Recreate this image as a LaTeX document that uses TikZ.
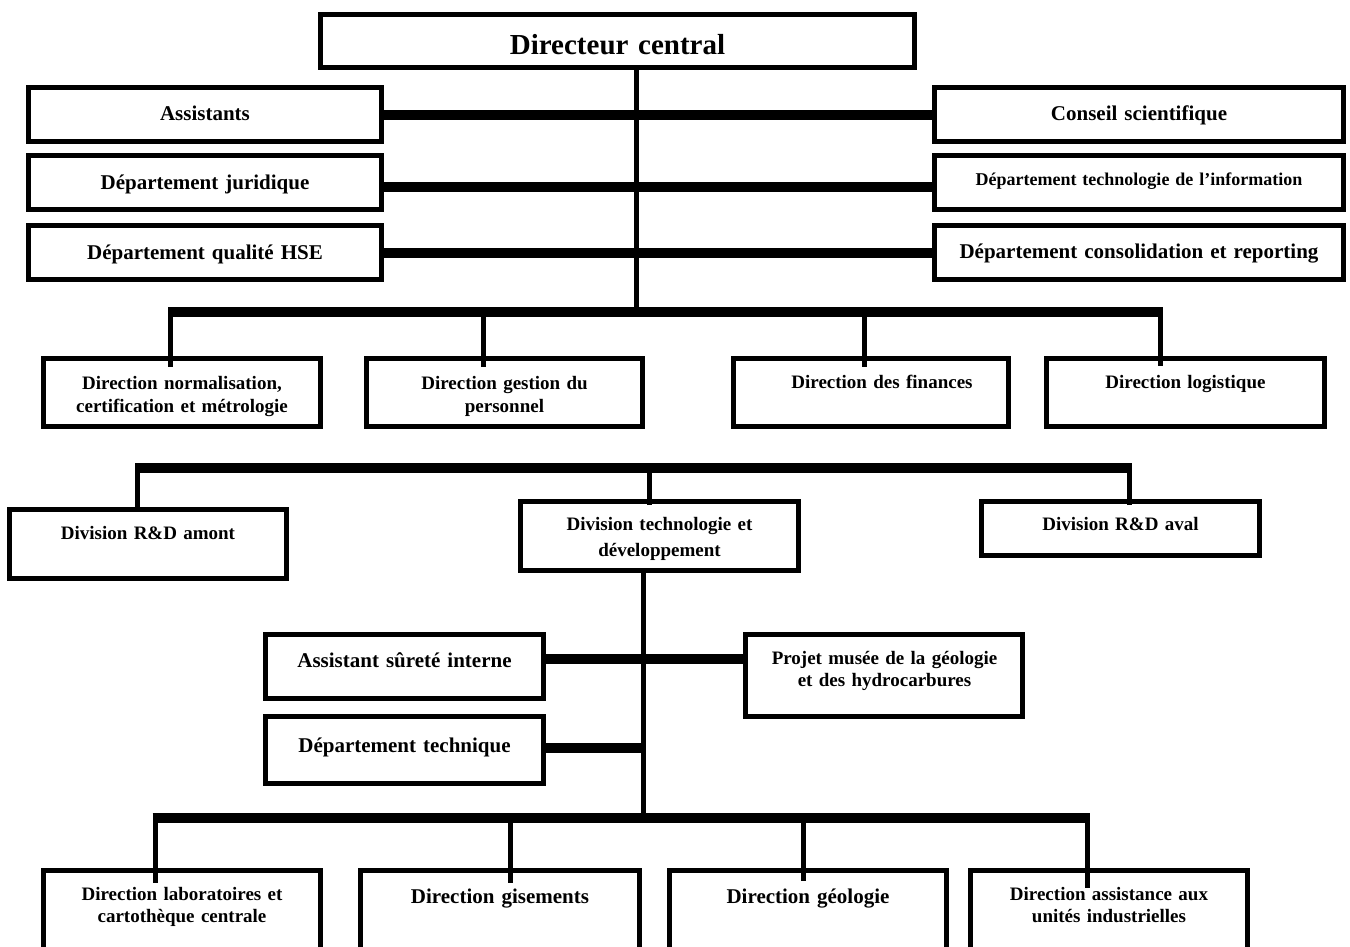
\documentclass[tikz,border=0pt]{standalone}
\usepackage{fontspec}
\setmainfont{Liberation Serif}

\tikzset{
  orgbox/.style={draw, line width=5pt, fill=white, inner sep=0pt, outer sep=0pt},
  lbl/.style={anchor=base, align=center, text width=420pt, inner sep=0pt,
              font=\bfseries\fontsize{19}{23}\selectfont},
  lblL/.style={lbl, font=\bfseries\fontsize{21}{25}\selectfont},
  hbar/.style={line width=10pt},
  bus/.style={line width=10pt},
  vbar/.style={line width=5pt},
  drop/.style={line width=5pt},
}

% box given by its outer edges: name, left, top, right, bottom
\newcommand\orgbox[5]{%
  \node[orgbox, minimum width={(#4-#2-5)*1pt}, minimum height={(#5-#3-5)*1pt}]
    (#1) at ({(#2+#4)/2},{(#3+#5)/2}) {};}

\begin{document}
\begin{tikzpicture}[x=1pt, y=-1pt]
\useasboundingbox (0,0) rectangle (1350,946);
\clip (0,0) rectangle (1350,946);
\fill[white] (0,0) rectangle (1350,946);

% ---- boxes ----
\orgbox{dc}{318}{12}{917}{70}
\orgbox{assist}{26}{85}{384}{144}
\orgbox{jur}{26}{153}{384}{212}
\orgbox{hse}{26}{223}{384}{282}
\orgbox{cons}{932}{85}{1346}{144}
\orgbox{ti}{932}{153}{1346}{212}
\orgbox{rep}{932}{223}{1346}{282}

\orgbox{norm}{41}{356}{323}{429}
\orgbox{pers}{364}{356}{645}{429}
\orgbox{fin}{731}{356}{1011}{429}
\orgbox{logi}{1044}{356}{1327}{429}

\orgbox{amont}{7}{507}{289}{581}
\orgbox{techdev}{518}{499}{801}{573}
\orgbox{aval}{979}{499}{1262}{558}

\orgbox{surete}{263}{632}{546}{701}
\orgbox{musee}{743}{632}{1025}{719}
\orgbox{dtech}{263}{714}{546}{786}

\orgbox{labo}{41}{868}{323}{985}
\orgbox{gis}{358}{868}{642}{985}
\orgbox{geo}{667}{868}{949}{985}
\orgbox{aui}{968}{868}{1250}{985}

% ---- connectors: top level ----
\coordinate (hub1) at (636,312);
\draw[vbar] (dc.south -| hub1) -- (hub1);
\draw[hbar] (assist.east) -- (cons.west);
\draw[hbar] ([yshift=-4.5pt]jur.east) -- ([yshift=-4.5pt]ti.west);
\draw[hbar] (hse.east) -- (rep.west);

% bus to the four directions
\coordinate (b1a) at (170.5,312);
\coordinate (b1b) at (483.5,312);
\coordinate (b1c) at (864.5,312);
\coordinate (b1d) at (1160,312);
\draw[bus] ([xshift=-2.5pt]b1a) -- ([xshift=2.5pt]b1d);
\draw[drop] (b1a) -- ([yshift=-8pt]norm.north -| b1a);
\draw[drop] (b1b) -- ([yshift=-8pt]pers.north -| b1b);
\draw[drop] (b1c) -- ([yshift=-8pt]fin.north -| b1c);
\draw[drop] (b1d) -- ([yshift=-7pt]logi.north -| b1d);

% bus to the three divisions
\coordinate (b2a) at (137.5,468);
\coordinate (b2b) at (649.5,468);
\coordinate (b2c) at (1129.5,468);
\draw[bus] ([xshift=-2.5pt]b2a) -- ([xshift=2.5pt]b2c);
\draw[drop] (b2a) -- (amont.north -| b2a);
\draw[drop] (b2b) -- ([yshift=-3.5pt]techdev.north -| b2b);
\draw[drop] (b2c) -- ([yshift=-3.5pt]aval.north -| b2c);

% division technologie et developpement
\coordinate (hub3) at (643,817.5);
\draw[vbar] (techdev.south -| hub3) -- (hub3);
\coordinate (h2) at (643,659);
\draw[hbar] (surete.east |- h2) -- (musee.west |- h2);
\coordinate (h3) at (645.5,748);
\draw[hbar] (dtech.east |- h3) -- (h3);

\coordinate (b3a) at (155,817.5);
\coordinate (b3b) at (510,817.5);
\coordinate (b3c) at (803.5,817.5);
\coordinate (b3d) at (1087.5,817.5);
\draw[bus] ([xshift=-2.5pt]b3a) -- ([xshift=2.5pt]b3d);
\draw[drop] (b3a) -- ([yshift=-12.5pt]labo.north -| b3a);
\draw[drop] (b3b) -- ([yshift=-12.5pt]gis.north -| b3b);
\draw[drop] (b3c) -- ([yshift=-10.5pt]geo.north -| b3c);
\draw[drop] (b3d) -- ([yshift=-17.5pt]aui.north -| b3d);

% ---- labels ----
\node[lbl, font=\bfseries\fontsize{29}{34}\selectfont] (t-dc) at (617.5,54) {Directeur central};
\node[lblL] (t-assist) at (205,120) {Assistants};
\node[lblL] (t-jur) at (205,189) {Département juridique};
\node[lblL] (t-hse) at (205,259) {Département qualité HSE};
\node[lblL] (t-cons) at (1139,120) {Conseil scientifique};
\node[lbl, font=\bfseries\fontsize{18}{22}\selectfont] (t-ti) at (1139,185) {Département technologie de l’information};
\node[lblL] (t-rep) at (1139,258) {Département consolidation et reporting};

\node[lbl] (t-norm) at (182,389) {Direction normalisation,\\certification et métrologie};
\node[lbl] (t-pers) at (504.5,389) {Direction gestion du\\personnel};
\node[lbl] (t-fin) at (882,388) {Direction des finances};
\node[lbl] (t-logi) at (1185.5,388) {Direction logistique};

\node[lbl] (t-amont) at (148,539) {Division R\&D amont};
\node[lbl, font=\bfseries\fontsize{19}{26}\selectfont] (t-techdev) at (659.5,530) {Division technologie et\\développement};
\node[lbl] (t-aval) at (1120.5,530) {Division R\&D aval};

\node[lblL] (t-surete) at (404.5,667) {Assistant sûreté interne};
\node[lbl, font=\bfseries\fontsize{19}{22}\selectfont] (t-musee) at (884.5,664) {Projet musée de la géologie\\et des hydrocarbures};
\node[lblL] (t-dtech) at (404.5,752) {Département technique};

\node[lbl, font=\bfseries\fontsize{19}{22}\selectfont] (t-labo) at (182,900) {Direction laboratoires et\\cartothèque centrale};
\node[lblL] (t-gis) at (500,903) {Direction gisements};
\node[lblL] (t-geo) at (808,903) {Direction géologie};
\node[lbl, font=\bfseries\fontsize{19}{22}\selectfont] (t-aui) at (1109,900) {Direction assistance aux\\unités industrielles};
\end{tikzpicture}
\end{document}
